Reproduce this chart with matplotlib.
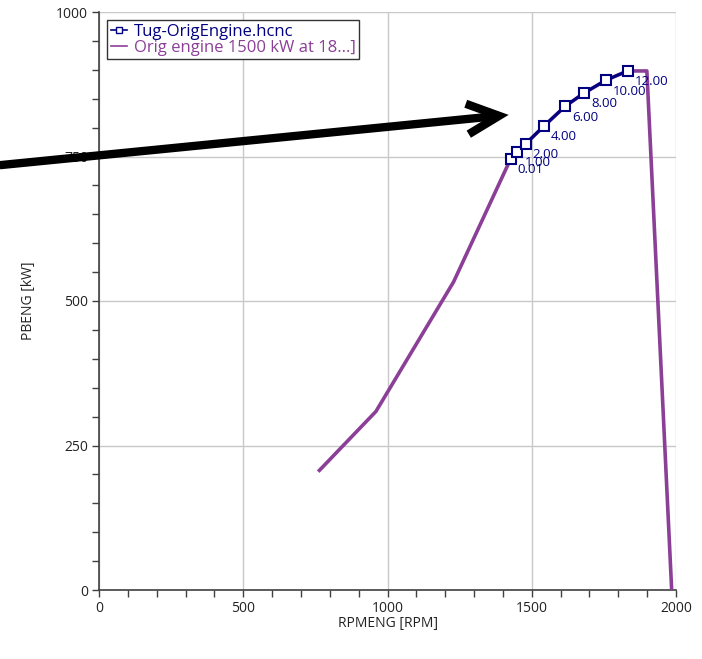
import matplotlib
matplotlib.use("Agg")
import matplotlib.pyplot as plt
from matplotlib.ticker import MultipleLocator

# hcnc-Kurve (Schlepper mit Originalmotor)
rpm_tug = [1427, 1450, 1479, 1543, 1616, 1682, 1757, 1832]
kw_tug = [746, 758, 772, 803, 837, 860, 882, 898]
labels_tug = ["0.01", "1.00", "2.00", "4.00", "6.00", "8.00", "10.00", "12.00"]

# Motorkennlinie 1500 kW
rpm_eng = [764, 960, 1229, 1427, 1450, 1479, 1543, 1616, 1682, 1757, 1832, 1899, 1985]
kw_eng = [207, 309, 533, 746, 758, 772, 803, 837, 860, 882, 898, 898, 0]

# Pfeil (Datenkoordinaten)
arrow_start = (-344, 735)
arrow_end = (1420, 822)

navy = "#000080"
purple = "#8B3F97"
dark = "#404040"

plt.rcParams['font.family'] = ['Open Sans', 'DejaVu Sans']

fig = plt.figure(figsize=(7.02, 6.59), dpi=100)
ax = fig.add_axes([99/702, 1-590/659, 577/702, 578/659])

ax.plot(rpm_eng, kw_eng, color=purple, lw=2.6, label="Orig engine 1500 kW at 18...]", zorder=3)
ax.plot(rpm_tug, kw_tug, color=navy, lw=2.2, marker="s", ms=6.5, mfc="white", mec=navy,
        mew=1.5, label="Tug-OrigEngine.hcnc", zorder=4)

for x, y, t in zip(rpm_tug, kw_tug, labels_tug):
    ax.annotate(t, (x, y), xytext=(7, -11), textcoords="offset pixels",
                color=navy, fontsize=9.5, va="center", ha="left", zorder=5)

ax.set_xlim(0, 2000)
ax.set_ylim(0, 1000)
ax.xaxis.set_major_locator(MultipleLocator(500))
ax.xaxis.set_minor_locator(MultipleLocator(100))
ax.yaxis.set_major_locator(MultipleLocator(250))
ax.yaxis.set_minor_locator(MultipleLocator(50))
ax.tick_params(which="both", direction="out", length=5, color=dark, width=1,
               labelsize=10, labelcolor="#222222", pad=3)
ax.grid(True, which="major", color="#c8c8c8", lw=1)
ax.set_axisbelow(True)
for s in ["top", "right"]:
    ax.spines[s].set_visible(False)
for s in ["left", "bottom"]:
    ax.spines[s].set_color(dark)
    ax.spines[s].set_linewidth(1.2)

ax.set_xlabel("RPMENG [RPM]", fontsize=10, color="#222222", labelpad=0)
ax.set_ylabel("PBENG [kW]", fontsize=10, color="#222222", labelpad=14)

h, l = ax.get_legend_handles_labels()
leg = ax.legend(h[::-1], l[::-1], loc="upper left", fontsize=12, frameon=True, fancybox=False,
                edgecolor="#333333", framealpha=1, borderpad=0.2, labelspacing=0,
                handlelength=1.0, handletextpad=0.4, borderaxespad=0.5)
leg.get_frame().set_linewidth(1)
for txt, c in zip(leg.get_texts(), [navy, purple]):
    txt.set_color(c)
leg.legend_handles[0].set_markersize(5)
leg.legend_handles[0].set_markeredgewidth(1)
leg.legend_handles[0].set_linewidth(1.2)
leg.legend_handles[1].set_linewidth(1.2)

ax.annotate("", xy=arrow_end, xytext=arrow_start, annotation_clip=False,
            arrowprops=dict(arrowstyle="->, head_length=1.15, head_width=0.55",
                            mutation_scale=20, lw=6, color="black", shrinkA=0, shrinkB=0,
                            joinstyle="miter", capstyle="butt"), zorder=6)

fig.savefig("out.png", dpi=100)
